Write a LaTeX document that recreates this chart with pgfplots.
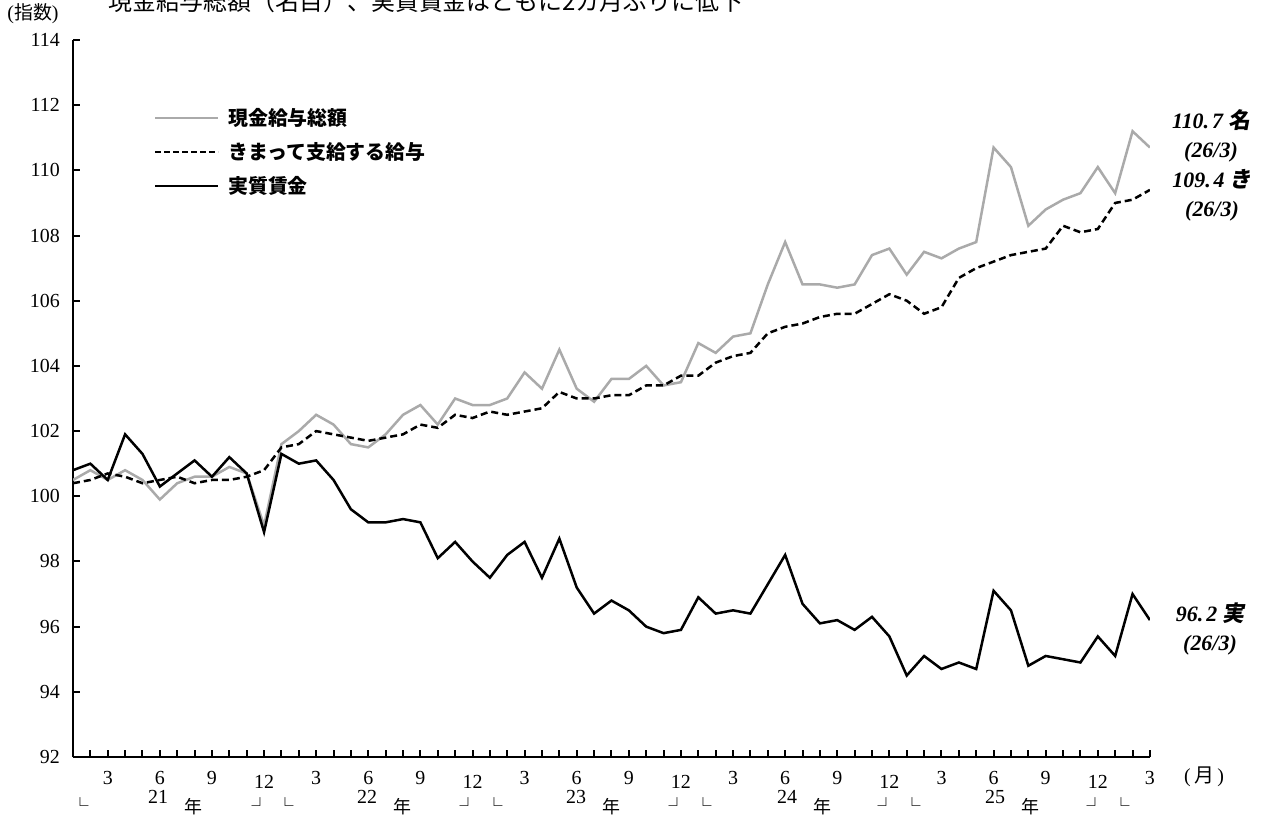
\documentclass[border=0pt]{standalone}
\usepackage{fontspec}
\setmainfont{Liberation Serif}
\newfontfamily\jp{Noto Sans CJK JP}
\newfontfamily\jpit[FakeSlant=0.18]{Noto Sans CJK JP}
\usepackage{pgfplots}
\usepackage{pgfplotstable}
\pgfplotsset{compat=1.18}
\definecolor{lgray}{RGB}{170,170,170}

% index values, month 0 = 2021/1 ... 62 = 2026/3
\pgfplotstableread{
m  gross fixed real
0  100.5 100.4 100.8
1  100.8 100.5 101.0
2  100.5 100.7 100.5
3  100.8 100.6 101.9
4  100.5 100.4 101.3
5  99.9  100.5 100.3
6  100.4 100.6 100.7
7  100.6 100.4 101.1
8  100.6 100.5 100.6
9  100.9 100.5 101.2
10 100.7 100.6 100.7
11 99.1  100.8 98.9
12 101.6 101.5 101.3
13 102.0 101.6 101.0
14 102.5 102.0 101.1
15 102.2 101.9 100.5
16 101.6 101.8 99.6
17 101.5 101.7 99.2
18 101.9 101.8 99.2
19 102.5 101.9 99.3
20 102.8 102.2 99.2
21 102.2 102.1 98.1
22 103.0 102.5 98.6
23 102.8 102.4 98.0
24 102.8 102.6 97.5
25 103.0 102.5 98.2
26 103.8 102.6 98.6
27 103.3 102.7 97.5
28 104.5 103.2 98.7
29 103.3 103.0 97.2
30 102.9 103.0 96.4
31 103.6 103.1 96.8
32 103.6 103.1 96.5
33 104.0 103.4 96.0
34 103.4 103.4 95.8
35 103.5 103.7 95.9
36 104.7 103.7 96.9
37 104.4 104.1 96.4
38 104.9 104.3 96.5
39 105.0 104.4 96.4
40 106.5 105.0 97.3
41 107.8 105.2 98.2
42 106.5 105.3 96.7
43 106.5 105.5 96.1
44 106.4 105.6 96.2
45 106.5 105.6 95.9
46 107.4 105.9 96.3
47 107.6 106.2 95.7
48 106.8 106.0 94.5
49 107.5 105.6 95.1
50 107.3 105.8 94.7
51 107.6 106.7 94.9
52 107.8 107.0 94.7
53 110.7 107.2 97.1
54 110.1 107.4 96.5
55 108.3 107.5 94.8
56 108.8 107.6 95.1
57 109.1 108.3 95.0
58 109.3 108.1 94.9
59 110.1 108.2 95.7
60 109.3 109.0 95.1
61 111.2 109.1 97.0
62 110.7 109.4 96.2
}\wages

\begin{document}
\begin{tikzpicture}[x=1bp,y=1bp]
\useasboundingbox (0bp,0bp) rectangle (1261bp,816bp);
\begin{axis}[
    at={(73bp,59bp)}, anchor=south west,
    scale only axis, width=1077bp, height=717bp,
    xmin=0, xmax=62, ymin=92, ymax=114,
    axis x line*=bottom, axis y line*=left,
    axis line style={line width=2.5bp, black, -},
    tick align=inside,
    major tick length=7bp,
    tick style={line width=2bp, black},
    xtick={0,...,62},
    xticklabels={{},{},3,{},{},6,{},{},9,{},{},{},
                 {},{},3,{},{},6,{},{},9,{},{},{},
                 {},{},3,{},{},6,{},{},9,{},{},{},
                 {},{},3,{},{},6,{},{},9,{},{},{},
                 {},{},3,{},{},6,{},{},9,{},{},{},
                 {},{},3},
    extra x ticks={11,23,35,47,59},
    extra x tick labels={12,12,12,12,12},
    extra x tick style={xticklabel style={yshift=-4bp}},
    ytick={92,94,...,114},
    /pgf/number format/assume math mode=true,
    xticklabel style={font=\fontsize{20}{20}\selectfont, anchor=north, inner sep=0pt, yshift=-14bp},
    yticklabel style={font=\fontsize{20}{20}\selectfont, anchor=east, inner sep=0pt, xshift=-13bp},
]
\addplot[lgray, line width=2.5bp] table[x=m, y=gross] {\wages};
\addplot[black, line width=2.5bp, dash pattern=on 7bp off 4bp] table[x=m, y=fixed] {\wages};
\addplot[black, line width=2.5bp] table[x=m, y=real] {\wages};
\end{axis}

% title (cut off at the top edge, as in the source)
\node[anchor=base west, inner sep=0pt, font=\jp\fontsize{24}{24}\selectfont] at (108bp,805bp)
  {現金給与総額（名目）、実質賃金はともに2カ月ぶりに低下};
\node[font=\fontsize{20}{20}\selectfont] at (33bp,802bp) {({\jp\fontsize{19}{19}\selectfont 指数})};
\node[font=\fontsize{20}{20}\selectfont] at (1204bp,39bp) {(\,{\jp 月}\,)};

% legend
\draw[lgray, line width=2.5bp] (155bp,698bp) -- (218bp,698bp);
\draw[black, line width=2.5bp, dash pattern=on 6bp off 3bp] (155bp,664bp) -- (218bp,664bp);
\draw[black, line width=2.5bp] (155bp,630bp) -- (218bp,630bp);
\begin{scope}[every node/.style={anchor=west, inner sep=0pt, font=\jp\bfseries\fontsize{20}{20}\selectfont}]
\node at (228bp,698bp) {現金給与総額};
\node at (228bp,664bp) {きまって支給する給与};
\node at (228bp,630bp) {実質賃金};
\end{scope}

% end labels
\begin{scope}[every node/.style={align=center, inner sep=0pt, font=\bfseries\itshape\fontsize{22}{29}\selectfont}]
\node at (1211bp,680bp) {110.\kern3bp 7\kern5bp{\jpit 名}\\(26/3)};
\node at (1212bp,621bp) {109.\kern3bp 4\kern5bp{\jpit き}\\(26/3)};
\node at (1210bp,187bp) {96.\kern3bp 2\kern5bp{\jpit 実}\\(26/3)};
\end{scope}

% year row below the month labels
\begin{scope}[every node/.style={inner sep=0pt, font=\fontsize{20}{20}\selectfont}]
\foreach \xx in {80,285,494,703,912,1121} \node[font=\jp\fontsize{17}{17}\selectfont] at (\xx bp,11bp) {└};
\foreach \xx in {260,468,677,886,1095} \node[font=\jp\fontsize{17}{17}\selectfont] at (\xx bp,11bp) {┘};
\foreach \xx/\yy in {158/21,367/22,576/23,787/24,995/25} {
  \node at (\xx bp,19bp) {\yy};
  \node[font=\jp\fontsize{18}{18}\selectfont] at (\xx bp+35bp,9bp) {年};
}
\end{scope}
\end{tikzpicture}
\end{document}
